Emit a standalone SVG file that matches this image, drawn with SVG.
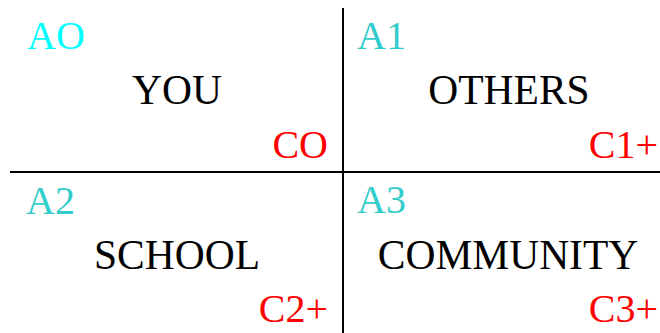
<svg xmlns="http://www.w3.org/2000/svg" width="660" height="333" viewBox="0 0 660 333">
<style>
text{font-family:"Liberation Serif","Times New Roman",serif;font-size:40px}
.a0{fill:#00FFFF}
.a{fill:#33CCCC}
.c{fill:#FF0000;text-anchor:end}
.n{fill:#000;text-anchor:middle;font-size:41.5px}
line{stroke:#000;stroke-width:2}
</style>
<rect width="660" height="333" fill="#fff"/>
<g id="connectors">
<line x1="343" y1="8" x2="343" y2="333"/>
<line x1="10" y1="172" x2="660" y2="172"/>
</g>
<g id="you">
<text class="a0" x="27" y="49">AO</text>
<text class="n" x="177" y="104">YOU</text>
<text class="c" x="328" y="158">CO</text>
</g>
<g id="others">
<text class="a" x="357" y="49">A1</text>
<text class="n" x="509" y="104">OTHERS</text>
<text class="c" x="658" y="158">C1+</text>
</g>
<g id="school">
<text class="a" x="26" y="214">A2</text>
<text class="n" x="177" y="269">SCHOOL</text>
<text class="c" x="328" y="322">C2+</text>
</g>
<g id="community">
<text class="a" x="357" y="213">A3</text>
<text class="n" x="508" y="269">COMMUNITY</text>
<text class="c" x="658" y="322">C3+</text>
</g>
</svg>
